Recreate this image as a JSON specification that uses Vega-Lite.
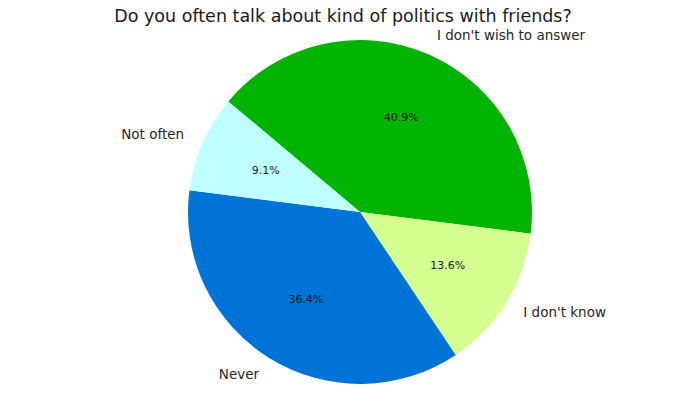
{
  "$schema": "https://vega.github.io/schema/vega-lite/v6.json",
  "width": 676,
  "height": 374,
  "autosize": {"type": "none"},
  "padding": {"left": 22, "top": 25, "right": 0, "bottom": 0},
  "background": "white",
  "config": {"view": {"stroke": null}, "font": "DejaVu Sans"},
  "title": {
    "text": "Do you often talk about kind of politics with friends?",
    "font": "DejaVu Sans",
    "fontSize": 17.5,
    "fontWeight": "normal",
    "color": "#1a1a1a",
    "anchor": "middle",
    "dx": -17,
    "offset": 0,
    "baseline": "middle",
    "dy": 9
  },
  "data": {
    "values": [
      {"answer": "I don't wish to answer", "share": 0.409, "idx": 1},
      {"answer": "I don't know", "share": 0.136, "idx": 2},
      {"answer": "Never", "share": 0.364, "idx": 3},
      {"answer": "Not often", "share": 0.091, "idx": 4}
    ]
  },
  "encoding": {
    "theta": {"field": "share", "type": "quantitative", "stack": true, "scale": {"range": [-0.8727, 5.4105]}},
    "order": {"field": "idx", "type": "quantitative"}
  },
  "layer": [
    {
      "mark": {"type": "arc", "outerRadius": 172, "stroke": null},
      "encoding": {
        "color": {
          "field": "answer",
          "type": "nominal",
          "legend": null,
          "scale": {
            "domain": ["I don't wish to answer", "I don't know", "Never", "Not often"],
            "range": ["#00b400", "#d4ff90", "#0073d7", "#c0ffff"]
          }
        }
      }
    },
    {
      "mark": {"type": "text", "radius": 103, "fontSize": 11, "color": "#1a1a1a", "font": "DejaVu Sans"},
      "encoding": {"text": {"field": "share", "type": "quantitative", "format": ".1%"}}
    },
    {
      "mark": {
        "type": "text",
        "radius": 192,
        "fontSize": 13.5,
        "color": "#262626",
        "font": "DejaVu Sans",
        "align": {"expr": "(datum.answer == 'Never' || datum.answer == 'Not often') ? 'right' : 'left'"},
        "baseline": "middle"
      },
      "encoding": {"text": {"field": "answer", "type": "nominal"}}
    }
  ]
}
